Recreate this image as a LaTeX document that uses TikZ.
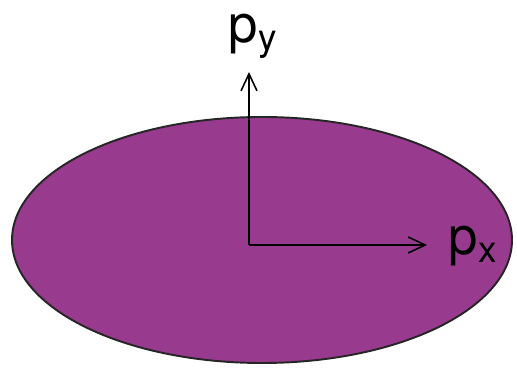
\documentclass[tikz,border=0pt]{standalone}
\usepackage{fontspec}
\setmainfont{TeX Gyre Heros}
\usepackage{tikz}
\usetikzlibrary{arrows.meta, positioning}
\definecolor{blobpurple}{RGB}{152,58,142}

\begin{document}
\begin{tikzpicture}[scale=1.0,
    axis/.style={-{Straight Barb[length=1.7mm, width=1.6mm]}, line width=0.45pt},
    lbl/.style={inner sep=0pt, font=\fontsize{15}{18}\selectfont}]
    \useasboundingbox (0,0) rectangle (5.17,3.70);

    % Ellipse
    \filldraw[fill=blobpurple, draw=black!85, line width=0.55pt] (2.62,1.30) ellipse (2.50cm and 1.23cm);

    % Axes
    \coordinate (o) at (2.49,1.25);
    \coordinate (ytip) at (2.49,2.98);
    \coordinate (xtip) at (4.27,1.25);
    \draw[axis] (o) -- (ytip);
    \draw[axis] (o) -- (xtip);

    % Labels
    \node[lbl, anchor=base west] (py) at (2.28,3.27) {p\textsubscript{y}};
    \node[lbl, anchor=base west] (px) at (4.48,1.15) {p\textsubscript{x}};
\end{tikzpicture}
\end{document}
